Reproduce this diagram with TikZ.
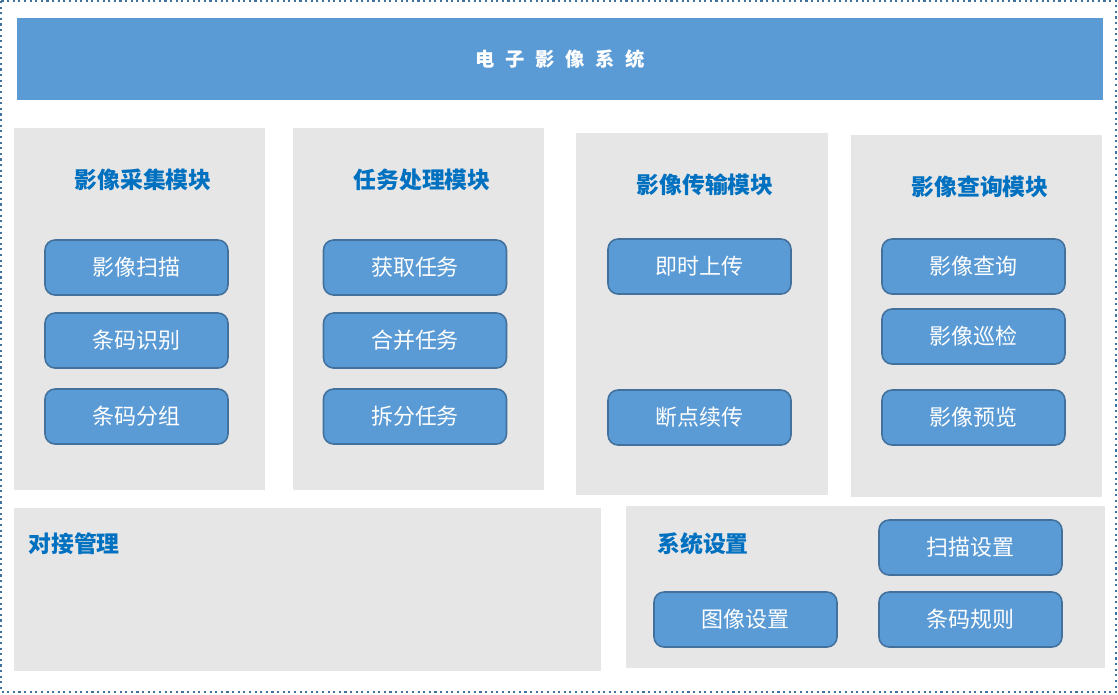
\documentclass[tikz,border=0pt]{standalone}
\usepackage{fontspec}
\setmainfont{Noto Sans CJK SC}
\usetikzlibrary{positioning}
\definecolor{barblue}{HTML}{5B9BD5}
\definecolor{edgeblue}{HTML}{41719C}
\definecolor{titleblue}{HTML}{0070C0}
\definecolor{panelgray}{HTML}{E6E6E6}
\newcommand{\gap}{\hspace{6pt}}
\tikzset{
  frame/.style = {draw=edgeblue, dotted, line width=1.2pt},
  topbar/.style = {fill=barblue, text=white, minimum width=21.72cm,
    minimum height=1.64cm, inner sep=0pt, font=\fontsize{11}{13}\selectfont\bfseries},
  panel/.style = {fill=panelgray, anchor=north west, inner sep=0pt},% grey module box
  modtitle/.style = {text=titleblue, inner sep=0pt,
    font=\fontsize{13}{15}\selectfont\bfseries},
  btn/.style = {rectangle, rounded corners=0.2cm, fill=barblue, draw=edgeblue,
    line width=0.9pt, text=white, minimum width=3.66cm, minimum height=1.1cm,
    inner sep=0pt, font=\fontsize{12.5}{15}\selectfont}% blue function button
}
\begin{document}
\begin{tikzpicture}[x=0.02cm, y=-0.02cm]
  \useasboundingbox (0,0) rectangle (1118,694);
  \draw [frame] (1,1) rectangle (1116,692);
  \node [topbar] (sys) at (560,59) {电\gap 子\gap 影\gap 像\gap 系\gap 统};

  % the four modules
  \node [panel, minimum width=5.02cm, minimum height=7.24cm] (P1) at (14,128) {};
  \node [panel, minimum width=5.02cm, minimum height=7.24cm] (P2) at (293,128) {};
  \node [panel, minimum width=5.04cm, minimum height=7.24cm] (P3) at (576,133) {};
  \node [panel, minimum width=5.02cm, minimum height=7.24cm] (P4) at (851,135) {};
  \node [panel, minimum width=11.74cm, minimum height=3.26cm] (P5) at (14,508) {};
  \node [panel, minimum width=9.58cm, minimum height=3.24cm] (P6) at (626,506) {};

  \node [modtitle] (T1) at (143,180) {影像采集模块};
  \node [modtitle] (T2) at (422,180) {任务处理模块};
  \node [modtitle] (T3) at (705,185) {影像传输模块};
  \node [modtitle] (T4) at (980,187) {影像查询模块};
  \node [modtitle, anchor=west] (T5) at (28,544) {对接管理};
  \node [modtitle] (T6) at (703,544) {系统设置};

  \node [btn] (B11) at (136.5,267.5) {影像扫描};
  \node [btn] (B12) at (136.5,340.5) {条码识别};
  \node [btn] (B13) at (136.5,416.5) {条码分组};

  \node [btn] (B21) at (415,267.5) {获取任务};
  \node [btn] (B22) at (415,340.5) {合并任务};
  \node [btn] (B23) at (415,416.5) {拆分任务};

  \node [btn] (B31) at (699.5,266.5) {即时上传};
  \node [btn] (B32) at (699.5,417.5) {断点续传};

  \node [btn] (B41) at (973.5,266.5) {影像查询};
  \node [btn] (B42) at (973.5,336.5) {影像巡检};
  \node [btn] (B43) at (973.5,417.5) {影像预览};

  \node [btn] (B61) at (970.5,547.5) {扫描设置};
  \node [btn] (B62) at (970.5,619.5) {条码规则};
  \node [btn] (B63) at (745.5,619.5) {图像设置};
\end{tikzpicture}
\end{document}
